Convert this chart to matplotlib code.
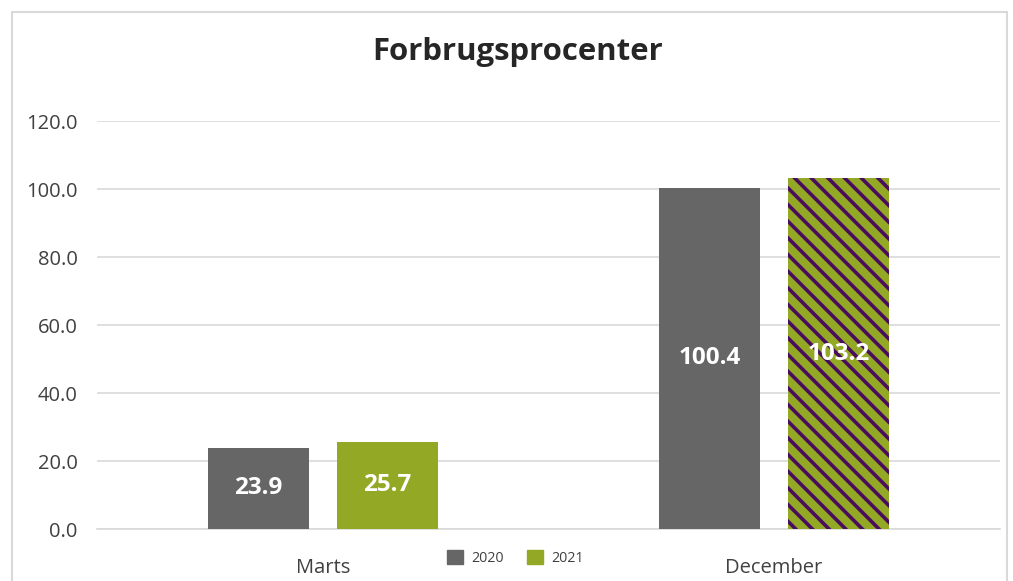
import matplotlib
matplotlib.use("Agg")
import matplotlib.pyplot as plt
import numpy as np
from matplotlib.patches import Rectangle

categories = ["Marts", "December"]
series_names = ["2020", "2021"]
values_2020 = [23.9, 100.4]
values_2021 = [25.7, 103.2]
yticks = [0, 20, 40, 60, 80, 100, 120]

plt.rcParams['font.family'] = ['Open Sans', 'DejaVu Sans']
plt.rcParams['hatch.linewidth'] = 2.6
plt.rcParams['hatch.color'] = '#4a0d5e'

GRAY = '#666666'
OLIVE = '#93a824'

fig = plt.figure(figsize=(10.13, 5.81), dpi=100)
ax = fig.add_axes([0.0958, 0.0895, 0.891, 0.7022])

x = np.arange(len(categories))
w = 0.224
off = 0.143
b1 = ax.bar(x - off, values_2020, w, color=GRAY, label=series_names[0], zorder=3)
b2 = ax.bar(x + off, values_2021, w, color=OLIVE, label=series_names[1], zorder=3)
# December 2021 bar has a striped pattern
b2[1].set_hatch('\\\\')
b2[1].set_edgecolor('#4a0d5e')
b2[1].set_linewidth(0)

for bars in (b1, b2):
    for r in bars:
        h = r.get_height()
        ax.text(r.get_x() + r.get_width() / 2, h / 2, f"{h:.1f}", ha='center', va='center',
                color='white', fontsize=17.5, fontweight='bold', zorder=4)

ax.set_xlim(-0.5, 1.5)
ax.set_ylim(0, 120)
ax.set_yticks(yticks)
ax.set_yticklabels([f"{v:.1f}" for v in yticks], fontsize=14.5, color='#404040')
ax.set_xticks(x)
ax.set_xticklabels(categories, fontsize=14.5, color='#404040')
ax.tick_params(axis='y', length=0, pad=14)
ax.tick_params(axis='x', length=0, pad=21)
ax.grid(axis='y', color='#d9d9d9', linewidth=1.2, zorder=0)
for s in ['top', 'right', 'left']:
    ax.spines[s].set_visible(False)
ax.spines['bottom'].set_color('#d9d9d9')
ax.spines['bottom'].set_linewidth(1.2)

leg_handles = [Rectangle((0, 0), 1, 1, color=GRAY), Rectangle((0, 0), 1, 1, color=OLIVE)]
fig.legend(leg_handles, series_names, loc='center', bbox_to_anchor=(0.509, 0.04), ncol=2,
           frameon=False, fontsize=10.3, handlelength=1.1, handleheight=1.1, columnspacing=1.65,
           handletextpad=0.6, labelcolor='#404040')

fig.text(0.511, 0.91, "Forbrugsprocenter", ha='center', va='center', fontsize=22.4,
         fontweight='bold', color='#262626')

fig.patches.append(Rectangle((12 / 1013, -0.05), (1007 - 12) / 1013, 1.05 - 12 / 581 + 0.0,
                             transform=fig.transFigure, fill=False, edgecolor='#d9d9d9',
                             linewidth=1.5))

fig.savefig("out.png", dpi=100)
